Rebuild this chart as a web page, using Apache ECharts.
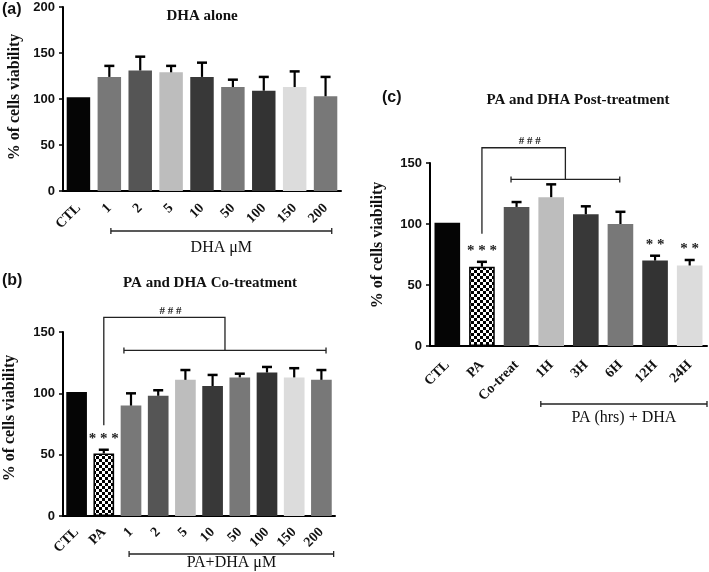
<!DOCTYPE html>
<html><head><meta charset="utf-8">
<script src="https://cdn.jsdelivr.net/npm/echarts@6/dist/echarts.min.js"></script>
<style>html,body{margin:0;padding:0;background:#fff}#c{width:709px;height:572px}</style>
</head><body><div id="c"></div>
<script>
// ---- data ----
const catsA = ['CTL','1','2','5','10','50','100','150','200'];
const meanA = [102,124,131,129,124,113,109,113,103];
const errA  = [0,12,15,7,15.5,8,15,17,21];
const sigA  = ['','','','','','','','',''];

const catsB = ['CTL','PA','1','2','5','10','50','100','150','200'];
const meanB = [101,51,90,98,111,106,113,117,113,111];
const errB  = [0,3,10,4.5,8,9,3,4.5,7.5,8];
const sigB  = ['','* * *','','','','','','','',''];

const catsC = ['CTL','PA','Co-treat','1H','3H','6H','12H','24H'];
const meanC = [101,65,114,122,108,100,70,66];
const errC  = [0,4,4,10.5,6.5,10,4,4.5];
const sigC  = ['','* * *','','','','','* *','* *'];

const ticksA = [0,50,100,150,200];
const ticksBC = [0,50,100,150];

// ---- styles ----
const colA = ['#050505','#787878','#555555','#bdbdbd','#383838','#787878','#333333','#dcdcdc','#787878'];
const colB = ['#050505','PATTERN','#787878','#555555','#bdbdbd','#383838','#787878','#333333','#dcdcdc','#787878'];
const colC = ['#050505','PATTERN','#555555','#bdbdbd','#383838','#787878','#333333','#dcdcdc'];

const SERIF = '"Liberation Serif", "Times New Roman", serif';
const SANS = '"Liberation Sans", Arial, sans-serif';

const pc = document.createElement('canvas');
pc.width = 6; pc.height = 6;
const g = pc.getContext('2d');
g.fillStyle = '#fff'; g.fillRect(0,0,6,6);
g.fillStyle = '#000'; g.fillRect(0,0,3,3); g.fillRect(3,3,3,3);
const checker = {image: pc, repeat: 'repeat'};

function barData(means, cols) {
  return means.map((v, i) => ({
    value: v,
    itemStyle: cols[i] === 'PATTERN'
      ? {color: checker, borderColor: '#000', borderWidth: 1.5}
      : {color: cols[i]}
  }));
}

function errRender(sigs) {
  return function (params, api) {
    const i = params.dataIndex;
    const m = api.value(1), e = api.value(2);
    const p0 = api.coord([i, m]);
    const p1 = api.coord([i, m + e]);
    const ch = [];
    if (e > 0) {
      ch.push({type: 'line', shape: {x1: p0[0], y1: p0[1], x2: p1[0], y2: p1[1]}, style: {stroke: '#000', lineWidth: 2.2}});
      ch.push({type: 'line', shape: {x1: p1[0] - 5, y1: p1[1], x2: p1[0] + 5, y2: p1[1]}, style: {stroke: '#000', lineWidth: 2.5}});
    }
    if (sigs[i]) {
      ch.push({type: 'text', x: p1[0], y: p1[1] - 3, style: {text: sigs[i], fill: '#222', font: 'bold 15px ' + SERIF, textAlign: 'center', textVerticalAlign: 'bottom'}});
    }
    return {type: 'group', children: ch};
  };
}

function bracketRender(cfg) {
  return function (params, api) {
    const x0 = api.coord([0, 0])[0];
    const yBase = api.coord([0, 0])[1];
    const band = api.size([1, 0])[0];
    const X = f => x0 + f * band;
    const Y = v => api.coord([0, v])[1];
    const ls = {stroke: '#222', lineWidth: 1.3, fill: null};
    const ch = [];
    function hbar(xa, xb, y) {
      ch.push({type: 'line', shape: {x1: xa, y1: y, x2: xb, y2: y}, style: ls});
      ch.push({type: 'line', shape: {x1: xa, y1: y - 3, x2: xa, y2: y + 3}, style: ls});
      ch.push({type: 'line', shape: {x1: xb, y1: y - 3, x2: xb, y2: y + 3}, style: ls});
    }
    const gb = cfg.group;
    const gy = yBase + gb.dy;
    hbar(X(gb.from), X(gb.to), gy);
    ch.push({type: 'text', x: (X(gb.from) + X(gb.to)) / 2, y: yBase + gb.ty, style: {text: gb.label, fill: '#111', font: '16px ' + SERIF, textAlign: 'center', textVerticalAlign: 'middle'}});
    if (cfg.top) {
      const t = cfg.top;
      const xl = X(t.from), xr = X(t.to), yl = Y(t.level);
      hbar(xl, xr, yl);
      const xm = (xl + xr) / 2;
      const xp = X(t.ref), yTop = Y(t.topV), yRef = Y(t.refV);
      ch.push({type: 'polyline', shape: {points: [[xp, yRef], [xp, yTop], [xm, yTop], [xm, yl]]}, style: ls});
      ch.push({type: 'text', x: (xp + xm) / 2 + 6, y: yTop - 1, style: {text: '# # #', fill: '#222', font: 'bold 11px ' + SERIF, textAlign: 'center', textVerticalAlign: 'bottom'}});
    }
    return {type: 'group', children: ch};
  };
}

function xAxisCfg(idx, cats, margin) {
  return {
    type: 'category', gridIndex: idx, data: cats,
    axisLine: {lineStyle: {color: '#000', width: 2}},
    axisTick: {alignWithLabel: true, length: 5, lineStyle: {color: '#000', width: 1.5}},
    axisLabel: {show: true, interval: 0, rotate: 45, margin: margin, color: '#111', fontFamily: SERIF, fontWeight: 'bold', fontSize: 14}
  };
}
function yAxisCfg(idx, ticks) {
  return {
    type: 'value', gridIndex: idx, min: ticks[0], max: ticks[ticks.length - 1], interval: ticks[1] - ticks[0],
    axisLine: {show: true, lineStyle: {color: '#000', width: 2}},
    axisTick: {show: true, length: 4, lineStyle: {color: '#000', width: 1.5}},
    splitLine: {show: false},
    axisLabel: {margin: 8, color: '#111', fontFamily: SANS, fontWeight: 'bold', fontSize: 13}
  };
}

const chart = echarts.init(document.getElementById('c'), null, {renderer: 'canvas'});
const option = {
  animation: false,
  backgroundColor: '#fff',
  grid: [
    {left: 63, top: 7, width: 278, height: 184},
    {left: 63, top: 332, width: 272, height: 184},
    {left: 430, top: 163, width: 277, height: 183}
  ],
  xAxis: [xAxisCfg(0, catsA, 15), xAxisCfg(1, catsB, 14), xAxisCfg(2, catsC, 17)],
  yAxis: [yAxisCfg(0, ticksA), yAxisCfg(1, ticksBC), yAxisCfg(2, ticksBC)],
  series: [
    {type: 'bar', xAxisIndex: 0, yAxisIndex: 0, barWidth: '76%', data: barData(meanA, colA)},
    {type: 'bar', xAxisIndex: 1, yAxisIndex: 1, barWidth: '76%', data: barData(meanB, colB)},
    {type: 'bar', xAxisIndex: 2, yAxisIndex: 2, barWidth: '74%', data: barData(meanC, colC)},
    {type: 'custom', xAxisIndex: 0, yAxisIndex: 0, renderItem: errRender(sigA), data: meanA.map((v, i) => [i, v, errA[i]]), z: 5},
    {type: 'custom', xAxisIndex: 1, yAxisIndex: 1, renderItem: errRender(sigB), data: meanB.map((v, i) => [i, v, errB[i]]), z: 5},
    {type: 'custom', xAxisIndex: 2, yAxisIndex: 2, renderItem: errRender(sigC), data: meanC.map((v, i) => [i, v, errC[i]]), z: 5},
    {type: 'custom', xAxisIndex: 0, yAxisIndex: 0, clip: false, data: [[0, 0]],
      renderItem: bracketRender({group: {from: 1.05, to: 8.2, dy: 40, ty: 57, label: 'DHA μM'}})},
    {type: 'custom', xAxisIndex: 1, yAxisIndex: 1, clip: false, data: [[0, 0]],
      renderItem: bracketRender({group: {from: 1.93, to: 9.45, dy: 38, ty: 47, label: 'PA+DHA μM'},
        top: {from: 1.74, to: 9.17, level: 135, ref: 1, refV: 74, topV: 162}})},
    {type: 'custom', xAxisIndex: 2, yAxisIndex: 2, clip: false, data: [[0, 0]],
      renderItem: bracketRender({group: {from: 2.7, to: 7.5, dy: 58, ty: 72, label: 'PA (hrs) + DHA'},
        top: {from: 1.84, to: 4.98, level: 136.5, ref: 1, refV: 92, topV: 162.5}})}
  ],
  graphic: [
    {type: 'text', x: 2, y: 10, style: {text: '(a)', font: 'bold 16px ' + SANS, fill: '#111', textVerticalAlign: 'middle'}},
    {type: 'text', x: 2, y: 281, style: {text: '(b)', font: 'bold 16px ' + SANS, fill: '#111', textVerticalAlign: 'middle'}},
    {type: 'text', x: 382, y: 98, style: {text: '(c)', font: 'bold 16px ' + SANS, fill: '#111', textVerticalAlign: 'middle'}},
    {type: 'text', x: 202, y: 16, style: {text: 'DHA alone', font: 'bold 15px ' + SERIF, fill: '#111', textAlign: 'center', textVerticalAlign: 'middle'}},
    {type: 'text', x: 210, y: 283, style: {text: 'PA and DHA Co-treatment', font: 'bold 15px ' + SERIF, fill: '#111', textAlign: 'center', textVerticalAlign: 'middle'}},
    {type: 'text', x: 578, y: 100, style: {text: 'PA and DHA Post-treatment', font: 'bold 15px ' + SERIF, fill: '#111', textAlign: 'center', textVerticalAlign: 'middle'}},
    {type: 'text', x: 15, y: 97, rotation: Math.PI / 2, style: {text: '% of cells viability', font: 'bold 16px ' + SERIF, fill: '#111', textAlign: 'center', textVerticalAlign: 'middle'}},
    {type: 'text', x: 10, y: 418, rotation: Math.PI / 2, style: {text: '% of cells viability', font: 'bold 16px ' + SERIF, fill: '#111', textAlign: 'center', textVerticalAlign: 'middle'}},
    {type: 'text', x: 378, y: 245, rotation: Math.PI / 2, style: {text: '% of cells viability', font: 'bold 16px ' + SERIF, fill: '#111', textAlign: 'center', textVerticalAlign: 'middle'}}
  ]
};
chart.setOption(option);
</script></body></html>
